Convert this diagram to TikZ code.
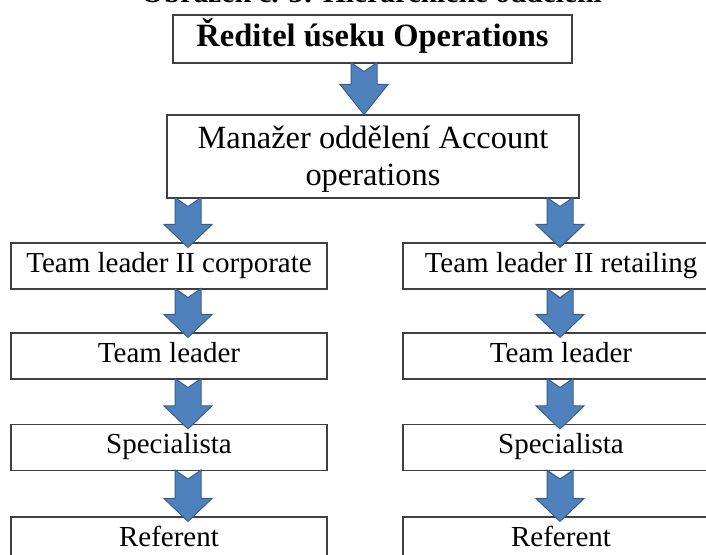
\documentclass[tikz,border=0pt]{standalone}
\usepackage{fontspec}
\setmainfont{Liberation Serif}
\usetikzlibrary{calc}
\definecolor{arrowfill}{HTML}{4F81BD}
\definecolor{arrowedge}{HTML}{385D8A}
\tikzset{
  orgbox/.style={draw=black!75, line width=1.1pt, fill=white, inner sep=0pt,
    minimum height=46pt, minimum width=316pt,
    font=\fontsize{29}{33}\selectfont, text height=20pt, text depth=8pt},
  blockarrow/.style={fill=arrowfill, draw=arrowedge, line width=1pt, line join=miter},
}
% Notched block arrow in column #1 from node #2 down to node #3;
% #4 = head length, #5 = how far the tip reaches into the lower box
\newcommand\orgarrow[5]{%
  \coordinate (t) at (#1 |- #2.south);
  \coordinate (p) at ($(#1 |- #3.north)+(0,#5)$);
  \draw[blockarrow] ($(t)+(-13,-1)$) -- ($(p)+(-13,-#4)$) -- ($(p)+(-24,-#4)$)
    -- (p) -- ($(p)+(24,-#4)$) -- ($(p)+(13,-#4)$) -- ($(t)+(13,-1)$)
    -- ($(t)+(0,8)$) -- cycle;
}
\begin{document}
\begin{tikzpicture}[x=1pt,y=-1pt]
\useasboundingbox (0,0) rectangle (706,554);

% caption
\node[font=\fontsize{29.5}{34}\selectfont\bfseries, anchor=base, inner sep=0pt]
  (title) at (371.5,2.5) {Obrázek č. 3: Hierarchické oddělení};

% head of the section and department manager
\node[orgbox, minimum width=399pt, minimum height=48pt,
  font=\fontsize{32.5}{37}\selectfont\bfseries, text height=22pt, text depth=8pt]
  (head) at (372.5,39) {Ředitel úseku Operations};
\node[orgbox, minimum width=412pt, minimum height=83pt] (manager) at (373,156.5) {};
\node[font=\fontsize{32.4}{37}\selectfont, align=center, inner sep=0pt]
  (managertext) at (373,159.5) {Manažer oddělení Account\\operations};

% corporate branch
\node[orgbox] (tl2c) at (169,266) {Team leader II corporate};
\node[orgbox] (tlc)  at (169,356) {Team leader};
\node[orgbox] (spc)  at (169,447.5) {Specialista};
\node[orgbox] (refc) at (169,540) {Referent};

% retailing branch
\node[orgbox] (tl2r) at (561,266) {Team leader II retailing};
\node[orgbox] (tlr)  at (561,356) {Team leader};
\node[orgbox] (spr)  at (561,447.5) {Specialista};
\node[orgbox] (refr) at (561,540) {Referent};

% arrow columns
\coordinate (colM) at (364,0);
\coordinate (colL) at (188,0);
\coordinate (colR) at (560,0);

\orgarrow{colM}{head}{manager}{30}{0}
\orgarrow{colL}{manager}{tl2c}{23}{5}
\orgarrow{colR}{manager}{tl2r}{23}{5}
\orgarrow{colL}{tl2c}{tlc}{23}{5}
\orgarrow{colR}{tl2r}{tlr}{23}{5}
\orgarrow{colL}{tlc}{spc}{23}{5}
\orgarrow{colR}{tlr}{spr}{23}{5}
\orgarrow{colL}{spc}{refc}{23}{5}
\orgarrow{colR}{spr}{refr}{23}{5}
\end{tikzpicture}
\end{document}
